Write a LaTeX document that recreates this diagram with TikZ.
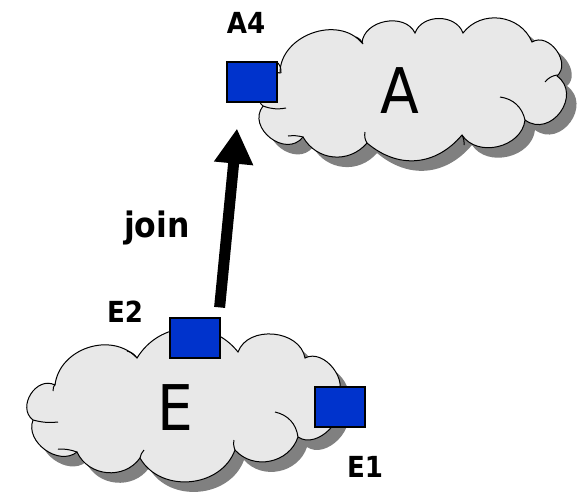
\documentclass[tikz,border=0pt]{standalone}
\usepackage{fontspec}
\newfontfamily\labelfont[FakeStretch=0.9]{DejaVu Sans}
\usetikzlibrary{arrows.meta}
\definecolor{cloudfill}{HTML}{E8E8E8}
\definecolor{cloudshade}{HTML}{808080}
\definecolor{portblue}{HTML}{0033CC}

% outline of the cloud around network A
\newcommand\cloudApath{(280,73)
  to[bend left=70,looseness=1.1] (362,43)
  to[bend left=75,looseness=1.1] (415,33)
  to[bend left=70,looseness=1.1] (463,33)
  to[bend left=60,looseness=1.1] (532,42)
  to[bend left=85,looseness=1.2] (557,76)
  to[bend left=90,looseness=1.5] (525,120)
  to[bend left=70,looseness=1.1] (462,135)
  to[bend left=45,looseness=1.1] (367,143)
  to[bend left=55,looseness=1.1] (303,137)
  to[bend left=90,looseness=1.4] (263,106)
  to[bend left=80] (280,73) -- cycle}

% outline of the cloud around network E
\newcommand\cloudEpath{(33,420)
  to[bend left=85,looseness=1.3] (55,385)
  to[bend left=65,looseness=1.1] (137,358)
  to[bend left=55,looseness=1.1] (238,352)
  to[bend left=75,looseness=1.1] (305,358)
  to[bend left=80,looseness=1.1] (336,398)
  to[bend left=80,looseness=1.1] (298,437)
  to[bend left=60,looseness=1.1] (235,450)
  to[bend left=65,looseness=1.1] (140,458)
  to[bend left=60,looseness=1.1] (77,452)
  to[bend left=75,looseness=1.1] (33,420) -- cycle}

\tikzset{
  cloudbody/.style={fill=cloudfill,draw=black,line width=1pt},
  cloudshadow/.style={fill=cloudshade},
  crease/.style={draw=black,line width=1pt},
  port/.style={draw=black,fill=portblue,line width=1.2pt,minimum width=50pt,minimum height=40pt,inner sep=0pt},
  portlabel/.style={font=\labelfont\bfseries\fontsize{29}{30}\selectfont,anchor=base,inner sep=0pt},
  netname/.style={font=\labelfont\fontsize{63}{64}\selectfont,anchor=base,inner sep=0pt},
  joinlabel/.style={font=\labelfont\bfseries\fontsize{35}{36}\selectfont,anchor=base,inner sep=0pt},
  joinarrow/.style={line width=11pt,-{Triangle[length=35pt,width=37pt]}}
}

\begin{document}
\begin{tikzpicture}[x=1pt,y=-1pt]
\useasboundingbox (0,0) rectangle (581,493);

% drop shadows
\fill[cloudshadow,shift={(10,10)}] \cloudApath;
\fill[cloudshadow,shift={(9,10)}] \cloudEpath;

% cloud bodies
\path[cloudbody] \cloudApath;
\path[cloudbody] \cloudEpath;

% creases of cloud A
\draw[crease] (278,63) to[bend left=20] (281,73);
\draw[crease] (356,37) to[bend left=20] (363,44);
\draw[crease] (545,82) to[bend left=20] (557,75);
\draw[crease] (500,97) to[bend left=35] (525,120);
\draw[crease] (462,135) to[bend left=15] (464,145);
\draw[crease] (367,143) to[bend left=20] (365,132);
\draw[crease] (288,136) to[bend left=10] (303,137);
\draw[crease] (263,106) to[bend right=15] (286,108);

% creases of cloud E
\draw[crease] (33,420) to[bend right=10] (58,422);
\draw[crease] (53,391) to[bend left=15] (55,384);
\draw[crease] (127,351) to[bend left=20] (137,358);
\draw[crease] (275,412) to[bend left=35] (298,437);
\draw[crease] (235,450) to[bend left=15] (234,440);
\draw[crease] (140,458) to[bend left=15] (144,450);
\draw[crease] (58,449) to[bend left=10] (77,452);

% network names
\node[netname] (nameA) at (400,113) {A};
\node[netname] (nameE) at (175,430) {E};

% border ports
\node[port] (A4) at (252,82) {};
\node[port] (E2) at (195,338) {};
\node[port] (E1) at (340,407) {};

% port labels
\node[portlabel] (lA4) at (246,33) {A4};
\node[portlabel] (lE2) at (125,322) {E2};
\node[portlabel] (lE1) at (365,477) {E1};

% join request
\draw[joinarrow] ([xshift=-1pt,yshift=10pt]E2.north east) -- ([xshift=-15pt,yshift=-26pt]A4.south);
\node[joinlabel] (ljoin) at (157,237) {join};
\end{tikzpicture}
\end{document}
